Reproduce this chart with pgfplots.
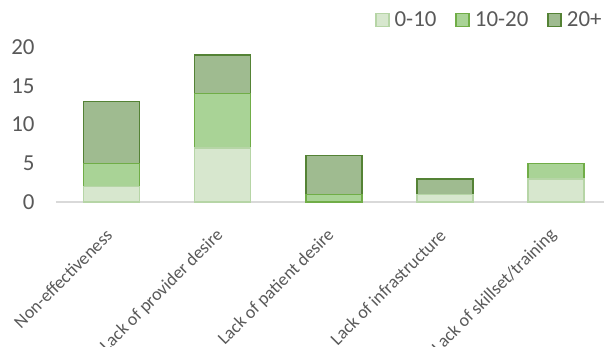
\documentclass[border=0pt]{standalone}
\usepackage{pgfplots}
\pgfplotsset{compat=1.18}
\usepackage{fontspec}
\setmainfont{Carlito}
\definecolor{txt}{HTML}{595959}
\definecolor{fA}{HTML}{D7E7CE}
\definecolor{dA}{HTML}{B6D5A6}
\definecolor{fB}{HTML}{A9D396}
\definecolor{dB}{HTML}{70AD47}
\definecolor{fC}{HTML}{9FBB90}
\definecolor{dC}{HTML}{548235}
\begin{document}
\begin{tikzpicture}
\useasboundingbox (-56bp,-145bp) rectangle (548bp,202bp);
\begin{axis}[
  at={(0,0)}, anchor=south west,
  scale only axis, width=548bp, height=155bp,
  ybar stacked, bar width=56bp,
  xmin=-0.5, xmax=4.43, ymin=0, ymax=20,
  xtick=data,
  xticklabels={Non-effectiveness, Lack of provider desire, Lack of patient desire, Lack of infrastructure, Lack of skillset/training},
  ytick={0,5,10,15,20},
  axis x line*=bottom, axis y line*=left,
  y axis line style={draw=none},
  x axis line style={draw=black!15, line width=1.2bp, -},
  major tick length=0pt,
  tick style={draw=none},
  /pgf/number format/assume math mode=true,
  yticklabel style={font=\fontsize{23}{27}\selectfont, text=txt, anchor=east, xshift=-18bp},
  xticklabel style={font=\fontsize{18}{21}\selectfont, text=txt, xshift=0bp, yshift=-28bp, rotate=45, anchor=east},
  legend columns=3,
  legend style={at={(1.005,1.175)}, anchor=east, draw=none, fill=none,
    font=\fontsize{23}{27}\selectfont, text=txt,
    /tikz/every odd column/.append style={column sep=3bp},
    /tikz/every even column/.append style={column sep=17bp}},
  legend image code/.code={\draw[#1, line width=1.5bp] (0bp,-6.5bp) rectangle (13bp,6.5bp);},
  clip=false,
]
\addplot[fill=fA, draw=dA, line width=1.5bp] coordinates {(0,2) (1,7) (2,0) (3,1) (4,3)};
\addplot[fill=fB, draw=dB, line width=1.5bp] coordinates {(0,3) (1,7) (2,1) (3,0) (4,2)};
\addplot[fill=fC, draw=dC, line width=1.5bp] coordinates {(0,8) (1,5) (2,5) (3,2) (4,0)};
\legend{0-10, 10-20, 20+}
\end{axis}
\end{tikzpicture}
\end{document}
